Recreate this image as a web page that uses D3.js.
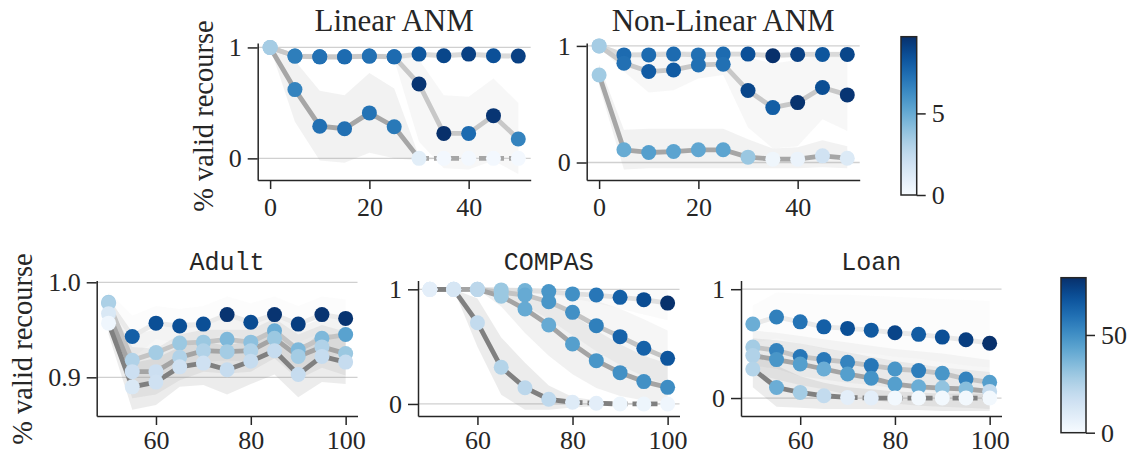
<!DOCTYPE html>
<html>
<head>
<meta charset="utf-8">
<script src="https://cdn.jsdelivr.net/npm/d3@7"></script>
<style>
body { margin: 0; background: #fff; }
</style>
</head>
<body>
<svg id="chart" width="1137" height="456"></svg>
<script>
// ---- data ----
var xTop = [0, 5, 10, 15, 20, 25, 30, 35, 40, 45, 50];
var xBottom = [50, 55, 60, 65, 70, 75, 80, 85, 90, 95, 100];

var topXTicks = [0, 20, 40];
var bottomXTicks = [60, 80, 100];
var unitYTicks = [0, 1];
var adultYTicks = [0.9, 1.0];
var topBarTicks = [0, 5];
var bottomBarTicks = [0, 50];
var topBarMax = 9.7;
var bottomBarMax = 79.3;

// Linear ANM
var linA = [1.0, 0.922, 0.915, 0.915, 0.922, 0.915, 0.94, 0.925, 0.94, 0.925, 0.922];
var linAc = [3.4, 6.8, 7.3, 7.5, 7.3, 7.5, 8.3, 8.9, 9.1, 8.5, 9.1];
var linAlo = [1.0, 0.9, 0.89, 0.89, 0.9, 0.89, 0.91, 0.9, 0.91, 0.9, 0.9];
var linAhi = [1.0, 0.945, 0.94, 0.94, 0.945, 0.94, 0.965, 0.95, 0.965, 0.955, 0.945];
var linC = [1.0, 0.922, 0.915, 0.915, 0.922, 0.915, 0.67, 0.225, 0.225, 0.385, 0.174];
var linCc = [3.4, 6.8, 7.3, 7.5, 7.3, 7.5, 9.5, 9.7, 7.5, 9.5, 6.6];
var linClo = [1.0, 0.9, 0.89, 0.89, 0.9, 0.89, 0.15, -0.09, -0.1, -0.02, -0.14];
var linChi = [1.0, 0.945, 0.94, 0.94, 0.945, 0.94, 0.89, 0.57, 0.555, 0.72, 0.5];
var linB = [1.0, 0.62, 0.29, 0.267, 0.41, 0.285, 0, 0, 0, 0, 0];
var linBc = [3.4, 6.6, 7.3, 7.3, 7.2, 7.0, 1.0, 0.2, 0.2, 0.2, 0.2];
var linBlo = [1.0, 0.33, -0.02, -0.04, 0.05, 0.0, -0.02, 0, 0, 0, 0];
var linBhi = [1.0, 0.88, 0.61, 0.57, 0.77, 0.63, 0.02, 0, 0, 0, 0];

// Non-Linear ANM
var nlT = [1.0, 0.923, 0.923, 0.93, 0.923, 0.93, 0.93, 0.916, 0.927, 0.927, 0.927];
var nlTc = [3.4, 7.5, 7.5, 7.5, 7.3, 7.5, 8.5, 9.7, 9.1, 8.3, 8.9];
var nlTlo = [1.0, 0.9, 0.9, 0.91, 0.9, 0.91, 0.91, 0.89, 0.9, 0.9, 0.9];
var nlThi = [1.0, 0.95, 0.95, 0.955, 0.95, 0.955, 0.955, 0.945, 0.955, 0.955, 0.955];
var nlM = [1.0, 0.852, 0.78, 0.794, 0.837, 0.843, 0.617, 0.471, 0.514, 0.643, 0.58];
var nlMc = [3.4, 7.3, 8.1, 8.1, 7.3, 7.3, 8.9, 8.0, 9.6, 8.6, 9.5];
var nlMlo = [1.0, 0.78, 0.6, 0.62, 0.72, 0.75, 0.3, 0.12, 0.14, 0.37, 0.27];
var nlMhi = [1.0, 0.94, 0.95, 0.96, 0.95, 0.94, 0.9, 0.85, 0.88, 0.93, 0.9];
var nlB = [0.751, 0.109, 0.086, 0.094, 0.109, 0.109, 0.046, 0.029, 0.029, 0.057, 0.037];
var nlBc = [3.5, 5.0, 5.5, 5.3, 5.2, 5.3, 3.7, 0.4, 0.6, 1.9, 1.3];
var nlBlo = [0.66, -0.06, -0.05, -0.05, -0.05, -0.05, -0.05, -0.05, -0.05, -0.04, -0.05];
var nlBhi = [0.84, 0.28, 0.29, 0.29, 0.29, 0.29, 0.2, 0.12, 0.13, 0.19, 0.14];

// Adult
var ad1 = [0.979, 0.943, 0.957, 0.954, 0.956, 0.966, 0.958, 0.966, 0.956, 0.966, 0.962];
var ad1c = [28, 65, 70, 70, 70, 78, 71, 78, 75, 78, 78];
var ad1lo = [0.968, 0.92, 0.94, 0.936, 0.937, 0.947, 0.938, 0.947, 0.937, 0.947, 0.942];
var ad1hi = [0.99, 0.965, 0.975, 0.972, 0.975, 0.985, 0.978, 0.985, 0.975, 0.985, 0.982];
var ad2 = [0.978, 0.918, 0.926, 0.936, 0.937, 0.940, 0.937, 0.949, 0.929, 0.941, 0.945];
var ad2c = [26, 25, 28, 30, 30, 36, 33, 40, 36, 36, 44];
var ad2lo = [0.962, 0.89, 0.9, 0.914, 0.916, 0.918, 0.916, 0.93, 0.906, 0.92, 0.925];
var ad2hi = [0.985, 0.945, 0.95, 0.958, 0.958, 0.962, 0.958, 0.968, 0.952, 0.962, 0.965];
var ad3 = [0.967, 0.906, 0.906, 0.921, 0.928, 0.927, 0.928, 0.941, 0.922, 0.932, 0.925];
var ad3c = [12, 17, 17, 25, 25, 28, 25, 30, 28, 25, 30];
var ad3lo = [0.955, 0.878, 0.882, 0.897, 0.906, 0.904, 0.906, 0.92, 0.898, 0.91, 0.902];
var ad3hi = [0.978, 0.932, 0.93, 0.945, 0.95, 0.95, 0.95, 0.962, 0.945, 0.955, 0.948];
var ad4 = [0.957, 0.890, 0.895, 0.911, 0.915, 0.908, 0.917, 0.928, 0.903, 0.922, 0.916];
var ad4c = [3, 12, 16, 16, 16, 19, 19, 19, 19, 19, 19];
var ad4lo = [0.945, 0.866, 0.871, 0.89, 0.892, 0.882, 0.893, 0.903, 0.879, 0.895, 0.893];
var ad4hi = [0.97, 0.915, 0.92, 0.932, 0.938, 0.933, 0.94, 0.952, 0.928, 0.948, 0.94];

// COMPAS
var co1 = [1.0, 1.0, 1.0, 0.995, 0.99, 0.98, 0.96, 0.95, 0.93, 0.91, 0.88];
var co1c = [8, 13, 22, 30, 38, 48, 50, 58, 65, 71, 79];
var co1lo = [1, 1, 1, 0.99, 0.97, 0.95, 0.92, 0.88, 0.83, 0.78, 0.73];
var co1hi = [1, 1, 1, 1, 1, 1, 1, 1, 1, 1, 1];
var co2 = [1.0, 1.0, 1.0, 0.975, 0.95, 0.892, 0.799, 0.683, 0.587, 0.486, 0.398];
var co2c = [8, 13, 22, 30, 41, 48, 50, 55, 64, 64, 68];
var co2lo = [1, 1, 1, 0.93, 0.86, 0.74, 0.6, 0.46, 0.34, 0.24, 0.16];
var co2hi = [1, 1, 1, 1, 1, 0.99, 0.96, 0.9, 0.83, 0.74, 0.64];
var co3 = [1.0, 1.0, 1.0, 0.94, 0.828, 0.689, 0.523, 0.378, 0.273, 0.195, 0.145];
var co3c = [8, 13, 22, 30, 41, 41, 45, 48, 50, 50, 51];
var co3lo = [1, 1, 1, 0.85, 0.62, 0.42, 0.26, 0.14, 0.07, 0.03, 0.02];
var co3hi = [1, 1, 1, 1, 0.97, 0.9, 0.78, 0.64, 0.52, 0.42, 0.35];
var co4 = [1.0, 1.0, 0.709, 0.32, 0.142, 0.041, 0.015, 0.006, 0.0, 0.0, 0.0];
var co4c = [8, 13, 20, 24, 22, 21, 10, 8, 4, 4, 3];
var co4lo = [1, 1, 0.5, 0.08, -0.05, -0.05, -0.03, -0.02, -0.01, -0.01, -0.01];
var co4hi = [1, 1, 0.92, 0.58, 0.36, 0.16, 0.06, 0.03, 0.01, 0.01, 0.01];

// Loan
var lo1 = [0.68, 0.745, 0.70, 0.654, 0.64, 0.624, 0.60, 0.585, 0.56, 0.535, 0.504];
var lo1c = [40, 55, 59, 65, 70, 67, 73, 66, 70, 75, 79];
var lo1lo = [0.5, 0.55, 0.5, 0.45, 0.42, 0.41, 0.38, 0.36, 0.33, 0.3, 0.28];
var lo1hi = [0.85, 0.97, 0.96, 0.95, 0.95, 0.94, 0.93, 0.92, 0.91, 0.9, 0.89];
var lo2 = [0.468, 0.437, 0.381, 0.353, 0.329, 0.298, 0.267, 0.252, 0.227, 0.175, 0.144];
var lo2c = [28, 54, 58, 57, 54, 58, 48, 56, 48, 54, 45];
var lo2lo = [0.3, 0.27, 0.2, 0.17, 0.14, 0.12, 0.09, 0.08, 0.05, 0.0, -0.02];
var lo2hi = [0.62, 0.6, 0.57, 0.54, 0.51, 0.48, 0.45, 0.43, 0.41, 0.38, 0.35];
var lo3 = [0.39, 0.353, 0.313, 0.267, 0.221, 0.183, 0.128, 0.103, 0.092, 0.083, 0.061];
var lo3c = [25, 48, 45, 40, 45, 49, 45, 40, 32, 34, 20];
var lo3lo = [0.23, 0.17, 0.12, 0.08, 0.03, -0.01, -0.05, -0.07, -0.08, -0.09, -0.1];
var lo3hi = [0.55, 0.53, 0.5, 0.46, 0.42, 0.38, 0.34, 0.31, 0.28, 0.26, 0.24];
var lo4 = [0.267, 0.097, 0.052, 0.021, 0.006, 0, 0, 0, 0, 0, 0];
var lo4c = [24, 40, 28, 20, 8, 8, 2, 2, 2, 2, 2];
var lo4lo = [0.1, -0.08, -0.09, -0.1, -0.1, -0.1, -0.11, -0.11, -0.12, -0.12, -0.12];
var lo4hi = [0.45, 0.3, 0.2, 0.14, 0.1, 0.08, 0.06, 0.05, 0.04, 0.04, 0.04];

// ---- drawing ----
var svg = d3.select("#chart");
var ink = "#262626";
var serif = "'Liberation Serif', 'Times New Roman', serif";
var mono = "'Liberation Mono', 'DejaVu Sans Mono', monospace";

function panel(p) {
  var g = svg.append("g");
  var x = d3.scaleLinear().domain(p.xdom).range([p.left, p.right]);
  var y = d3.scaleLinear().domain(p.ydom).range([p.bottom, p.top]);
  var col = d3.scaleSequential(d3.interpolateBlues).domain([0, p.cmax]);

  g.selectAll("line.grid")
    .data(p.yticks)
    .enter().append("line")
    .attr("class", "grid")
    .attr("x1", p.left).attr("x2", p.right)
    .attr("y1", function(d) { return y(d); })
    .attr("y2", function(d) { return y(d); })
    .attr("stroke", "#d0d0d0")
    .attr("stroke-width", 1.3);

  var area = d3.area()
    .x(function(d) { return x(d[0]); })
    .y0(function(d) { return y(d[1]); })
    .y1(function(d) { return y(d[2]); });

  p.series.forEach(function(s) {
    g.append("path")
      .datum(d3.zip(p.xs, s.lo, s.hi))
      .attr("d", area)
      .attr("fill", s.gray)
      .attr("fill-opacity", 0.15);
  });

  var line = d3.line()
    .x(function(d) { return x(d[0]); })
    .y(function(d) { return y(d[1]); });

  p.series.forEach(function(s) {
    var pts = d3.zip(p.xs, s.v);
    var k = s.dash == null ? pts.length : s.dash + 1;
    g.append("path")
      .datum(pts.slice(0, k))
      .attr("d", line)
      .attr("fill", "none")
      .attr("stroke", s.gray)
      .attr("stroke-width", 4.8)
      .attr("stroke-linejoin", "round");
    if (s.dash != null) {
      g.append("path")
        .datum(pts.slice(s.dash))
        .attr("d", line)
        .attr("fill", "none")
        .attr("stroke", s.gray)
        .attr("stroke-width", 4.8)
        .attr("stroke-dasharray", "10,5");
    }
  });

  p.series.forEach(function(s) {
    g.append("g")
      .selectAll("circle")
      .data(d3.zip(p.xs, s.v, s.c))
      .enter().append("circle")
      .attr("cx", function(d) { return x(d[0]); })
      .attr("cy", function(d) { return y(d[1]); })
      .attr("r", 7.5)
      .attr("fill", function(d) { return col(d[2]); });
  });

  var xa = g.append("g")
    .attr("transform", "translate(0," + p.bottom + ")")
    .call(d3.axisBottom(x).tickValues(p.xticks).tickSize(9).tickPadding(p.xpad).tickSizeOuter(0));
  var ya = g.append("g")
    .attr("transform", "translate(" + p.left + ",0)")
    .call(d3.axisLeft(y).tickValues(p.yticks).tickSize(10).tickPadding(6).tickSizeOuter(0)
      .tickFormat(p.yfmt));
  [xa, ya].forEach(function(a) {
    a.attr("color", ink).attr("font-family", serif).attr("font-size", 26);
    a.selectAll("path, line").attr("stroke-width", 1.5);
  });

  g.append("text")
    .attr("x", (p.left + p.right) / 2)
    .attr("y", p.titleY)
    .attr("text-anchor", "middle")
    .attr("font-family", p.mono ? mono : serif)
    .attr("font-size", p.mono ? 25 : 31)
    .attr("fill", ink)
    .text(p.title);
}

function colorbar(b) {
  var id = "grad" + b.id;
  var grad = svg.append("defs").append("linearGradient")
    .attr("id", id).attr("x1", 0).attr("y1", 1).attr("x2", 0).attr("y2", 0);
  d3.range(0, 1.0001, 0.05).forEach(function(t) {
    grad.append("stop").attr("offset", t).attr("stop-color", d3.interpolateBlues(t));
  });
  svg.append("rect")
    .attr("x", b.left).attr("y", b.top)
    .attr("width", b.width).attr("height", b.bottom - b.top)
    .attr("fill", "url(#" + id + ")")
    .attr("stroke", ink).attr("stroke-width", 1.5);
  var s = d3.scaleLinear().domain([0, b.max]).range([b.bottom, b.top]);
  var a = svg.append("g")
    .attr("transform", "translate(" + (b.left + b.width) + ",0)")
    .call(d3.axisRight(s).tickValues(b.ticks).tickSize(9).tickPadding(6).tickSizeOuter(0));
  a.select(".domain").remove();
  a.attr("color", ink).attr("font-family", serif).attr("font-size", 26);
  a.selectAll("line").attr("stroke-width", 1.5);
}

var fmtInt = d3.format("d");
var fmt1 = d3.format(".1f");

panel({
  title: "Linear ANM", titleY: 31, xs: xTop, xticks: topXTicks, yticks: unitYTicks, yfmt: fmtInt, xpad: 8.5,
  xdom: [-2.5, 52.5], ydom: [-0.195, 1.04], left: 257.7, right: 530.7, top: 43, bottom: 180, cmax: topBarMax,
  series: [
    { v: linA, c: linAc, lo: linAlo, hi: linAhi, gray: "#dadada" },
    { v: linC, c: linCc, lo: linClo, hi: linChi, gray: "#c8c8c8" },
    { v: linB, c: linBc, lo: linBlo, hi: linBhi, gray: "#a6a6a6", dash: 6 }
  ]
});

panel({
  title: "Non-Linear ANM", titleY: 31, xs: xTop, xticks: topXTicks, yticks: unitYTicks, yfmt: fmtInt, xpad: 8.5,
  xdom: [-2.5, 52.5], ydom: [-0.15, 1.025], left: 586.7, right: 859.7, top: 43, bottom: 180, cmax: topBarMax,
  series: [
    { v: nlT, c: nlTc, lo: nlTlo, hi: nlThi, gray: "#dadada" },
    { v: nlM, c: nlMc, lo: nlMlo, hi: nlMhi, gray: "#c8c8c8" },
    { v: nlB, c: nlBc, lo: nlBlo, hi: nlBhi, gray: "#a6a6a6" }
  ]
});

panel({
  title: "Adult", mono: true, titleY: 270, xs: xBottom, xticks: bottomXTicks, yticks: adultYTicks, yfmt: fmt1, xpad: 6,
  xdom: [47.5, 102.5], ydom: [0.8593, 1.0019], left: 96.7, right: 357.5, top: 280.5, bottom: 416, cmax: bottomBarMax,
  series: [
    { v: ad1, c: ad1c, lo: ad1lo, hi: ad1hi, gray: "#eaeaea" },
    { v: ad2, c: ad2c, lo: ad2lo, hi: ad2hi, gray: "#c4c4c4" },
    { v: ad3, c: ad3c, lo: ad3lo, hi: ad3hi, gray: "#a4a4a4" },
    { v: ad4, c: ad4c, lo: ad4lo, hi: ad4hi, gray: "#808080" }
  ]
});

panel({
  title: "COMPAS", mono: true, titleY: 270, xs: xBottom, xticks: bottomXTicks, yticks: unitYTicks, yfmt: fmtInt, xpad: 6,
  xdom: [47.5, 102.5], ydom: [-0.105, 1.077], left: 418, right: 679.5, top: 280.5, bottom: 416, cmax: bottomBarMax,
  series: [
    { v: co1, c: co1c, lo: co1lo, hi: co1hi, gray: "#e0e0e0" },
    { v: co2, c: co2c, lo: co2lo, hi: co2hi, gray: "#c4c4c4" },
    { v: co3, c: co3c, lo: co3lo, hi: co3hi, gray: "#a4a4a4" },
    { v: co4, c: co4c, lo: co4lo, hi: co4hi, gray: "#808080", dash: 6 }
  ]
});

panel({
  title: "Loan", mono: true, titleY: 270, xs: xBottom, xticks: bottomXTicks, yticks: unitYTicks, yfmt: fmtInt, xpad: 6,
  xdom: [47.5, 102.5], ydom: [-0.165, 1.08], left: 741, right: 1001.5, top: 280.5, bottom: 416, cmax: bottomBarMax,
  series: [
    { v: lo1, c: lo1c, lo: lo1lo, hi: lo1hi, gray: "#eaeaea" },
    { v: lo2, c: lo2c, lo: lo2lo, hi: lo2hi, gray: "#c4c4c4" },
    { v: lo3, c: lo3c, lo: lo3lo, hi: lo3hi, gray: "#a4a4a4" },
    { v: lo4, c: lo4c, lo: lo4lo, hi: lo4hi, gray: "#808080", dash: 4 }
  ]
});

colorbar({ id: "top", left: 901, width: 15.7, top: 36.7, bottom: 195, max: topBarMax, ticks: topBarTicks });
colorbar({ id: "bot", left: 1061, width: 25, top: 277.7, bottom: 432.7, max: bottomBarMax, ticks: bottomBarTicks });

// y labels
[[213, 116], [32, 349]].forEach(function(pos) {
  svg.append("text")
    .attr("transform", "translate(" + pos[0] + "," + pos[1] + ") rotate(-90)")
    .attr("text-anchor", "middle")
    .attr("font-family", serif)
    .attr("font-size", 28.5)
    .attr("fill", ink)
    .text("% valid recourse");
});
</script>
</body>
</html>
